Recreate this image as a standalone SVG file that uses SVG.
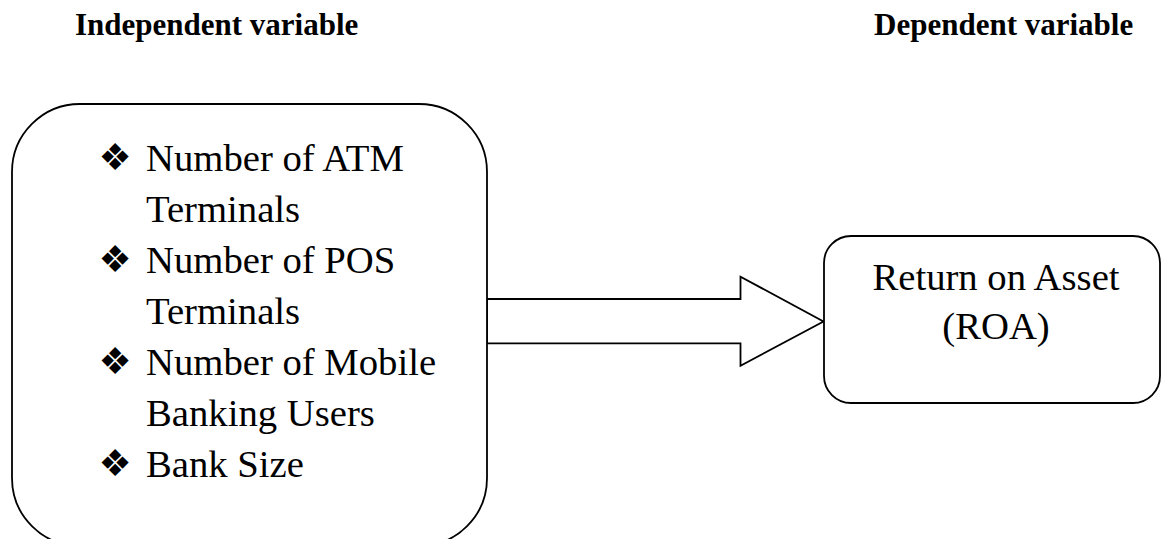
<svg xmlns="http://www.w3.org/2000/svg" width="1162" height="539" viewBox="0 0 1162 539">
<style>
.box{fill:#fff;stroke:#000;stroke-width:1.8}
.head{font-family:"Liberation Serif","Times New Roman",serif;font-weight:bold;font-size:31px;fill:#000}
.t{font-family:"Liberation Serif","Times New Roman",serif;font-size:38.7px;fill:#000}
.b{font-family:"DejaVu Sans",sans-serif;font-size:37px;fill:#000}
</style>
<rect width="1162" height="539" fill="#fff"/>
<text class="head" x="75" y="35">Independent variable</text>
<text class="head" x="874" y="35">Dependent variable</text>
<g id="connectors">
<polygon class="box" points="487,299 740.5,299 740.5,276.7 823.5,321.5 740.5,365.7 740.5,343.3 487,343.3"/>
</g>
<g id="independent">
<rect class="box" x="12" y="104" width="475" height="442" rx="68" ry="68"/>
<text class="b" x="115" y="170" text-anchor="middle">❖</text>
<text class="t" x="146" y="171">Number of ATM</text>
<text class="t" x="146" y="222">Terminals</text>
<text class="b" x="115" y="272" text-anchor="middle">❖</text>
<text class="t" x="146" y="273">Number of POS</text>
<text class="t" x="146" y="324">Terminals</text>
<text class="b" x="115" y="374" text-anchor="middle">❖</text>
<text class="t" x="146" y="375">Number of Mobile</text>
<text class="t" x="146" y="426">Banking Users</text>
<text class="b" x="115" y="476" text-anchor="middle">❖</text>
<text class="t" x="146" y="477">Bank Size</text>
</g>
<g id="dependent">
<rect class="box" x="824" y="236" width="336" height="167" rx="27" ry="27"/>
<text class="t" x="996" y="290" text-anchor="middle">Return on Asset</text>
<text class="t" x="996" y="339" text-anchor="middle">(ROA)</text>
</g>
</svg>
